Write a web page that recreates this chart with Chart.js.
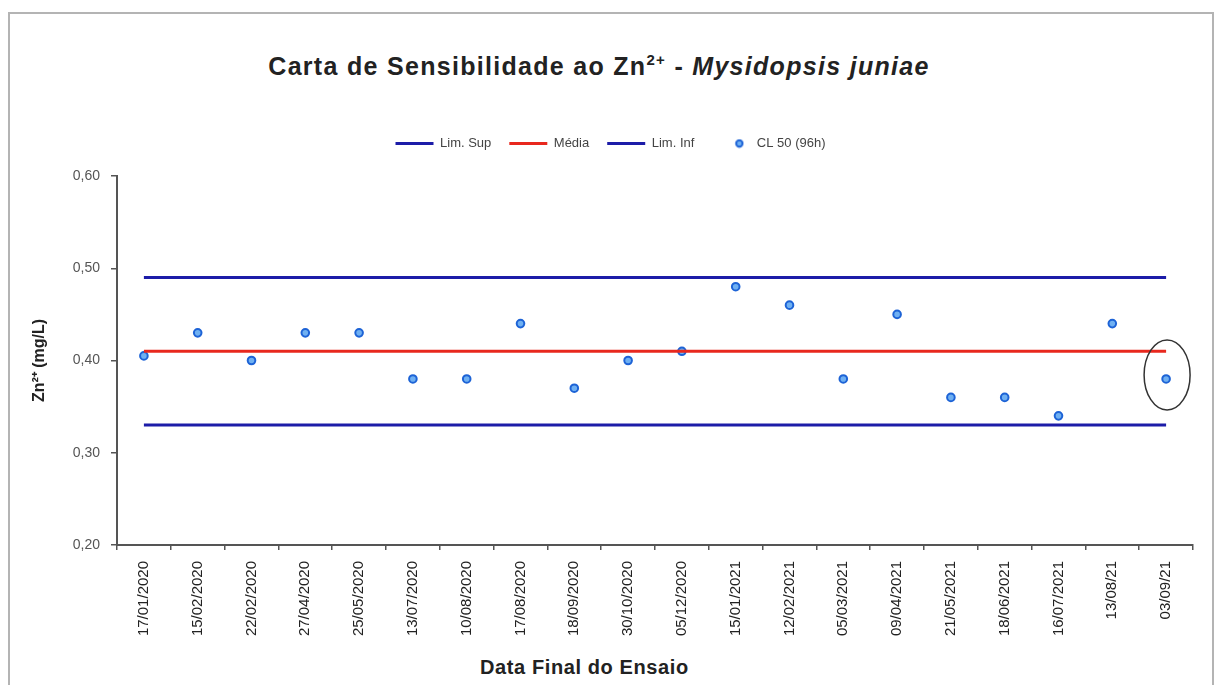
<!DOCTYPE html>
<html>
<head>
<meta charset="utf-8">
<script src="https://cdn.jsdelivr.net/npm/chart.js@4.4.1/dist/chart.umd.min.js"></script>
<style>
  body { margin: 0; background: #fff; width: 1214px; height: 685px; overflow: hidden; position: relative; }
  #frame { position: absolute; left: 8px; top: 12px; width: 1202px; height: 672px; border: 2px solid #b4b4b4; }
  #titulo { position: absolute; left: 0; width: 1198px; top: 52px; text-align: center;
    font-family: "Liberation Sans", Arial, sans-serif; font-weight: bold; font-size: 25px; color: #222;
    letter-spacing: 1.3px; }
  #titulo sup { font-size: 15px; position: relative; top: -1px; }
  #eixoX { position: absolute; left: 480px; top: 656px; font-family: "Liberation Sans", Arial, sans-serif;
    font-weight: bold; font-size: 20px; color: #222; letter-spacing: 0.6px; }
  canvas { position: absolute; left: 0; top: 0; }
</style>
</head>
<body>
<div id="frame"></div>
<div id="titulo">Carta de Sensibilidade ao Zn<sup>2+</sup> - <i>Mysidopsis juniae</i></div>
<div id="eixoX">Data Final do Ensaio</div>
<canvas id="grafico" width="1214" height="685"></canvas>
<script>
const datas = ["17/01/2020", "15/02/2020", "22/02/2020", "27/04/2020", "25/05/2020", "13/07/2020", "10/08/2020",
  "17/08/2020", "18/09/2020", "30/10/2020", "05/12/2020", "15/01/2021", "12/02/2021", "05/03/2021",
  "09/04/2021", "21/05/2021", "18/06/2021", "16/07/2021", "13/08/21", "03/09/21"];
const cl50 = [0.405, 0.43, 0.40, 0.43, 0.43, 0.38, 0.38, 0.44, 0.37, 0.40,
  0.41, 0.48, 0.46, 0.38, 0.45, 0.36, 0.36, 0.34, 0.44, 0.38];
const limSup = 0.49;
const media = 0.41;
const limInf = 0.33;
const yTicks = [0.20, 0.30, 0.40, 0.50, 0.60];

// horizontal reference lines go from the first to the last date
function linha(valor) {
  return [{ x: datas[0], y: valor }, { x: datas[datas.length - 1], y: valor }];
}

const fonte = "'Liberation Sans', Arial, sans-serif";
const azulBorda = "#1d63d6", azulFundo = "#6fb0f2";

// round marker for the legend, drawn right-aligned in the box so it sits near its text
const bolinha = document.createElement("canvas");
bolinha.width = 26; bolinha.height = 10;
(function () {
  const c = bolinha.getContext("2d");
  c.beginPath(); c.arc(21, 5, 3.2, 0, Math.PI * 2);
  c.fillStyle = azulFundo; c.fill();
  c.lineWidth = 2; c.strokeStyle = azulBorda; c.stroke();
})();

// extra space under the legend
const legendGap = {
  id: "legendGap",
  beforeInit(chart) {
    const fit = chart.legend.fit;
    chart.legend.fit = function () {
      fit.bind(chart.legend)();
      this.height += 16;
    };
  }
};

// ellipse around the last result
const elipse = {
  id: "elipse",
  afterDatasetsDraw(chart) {
    const meta = chart.getDatasetMeta(3);
    const p = meta.data[meta.data.length - 1];
    const ctx = chart.ctx;
    ctx.save();
    ctx.beginPath();
    ctx.ellipse(p.x + 1, p.y - 4, 23, 35, 0, 0, Math.PI * 2);
    ctx.strokeStyle = "#333";
    ctx.lineWidth = 1.5;
    ctx.stroke();
    ctx.restore();
  }
};

new Chart(document.getElementById("grafico"), {
  type: "line",
  data: {
    labels: datas,
    datasets: [
      { label: "Lim. Sup", data: linha(limSup), borderColor: "#1c1ca8", backgroundColor: "#1c1ca8",
        borderWidth: 3, pointRadius: 0, pointStyle: "line" },
      { label: "Média", data: linha(media), borderColor: "#e8281e", backgroundColor: "#e8281e",
        borderWidth: 3, pointRadius: 0, pointStyle: "line" },
      { label: "Lim. Inf", data: linha(limInf), borderColor: "#1c1ca8", backgroundColor: "#1c1ca8",
        borderWidth: 3, pointRadius: 0, pointStyle: "line" },
      { label: "CL 50 (96h)", data: cl50, showLine: false, pointStyle: "circle", pointRadius: 3.8,
        pointBorderWidth: 2, borderColor: azulBorda, backgroundColor: azulFundo,
        pointBackgroundColor: azulFundo, pointBorderColor: azulBorda }
    ]
  },
  options: {
    responsive: false,
    animation: false,
    layout: { padding: { left: 28, right: 21, top: 119, bottom: 0 } },
    plugins: {
      legend: {
        position: "top",
        labels: {
          usePointStyle: true, pointStyleWidth: 38, boxHeight: 8, padding: 18,
          color: "#444", font: { family: fonte, size: 13 },
          generateLabels(chart) {
            const items = Chart.defaults.plugins.legend.labels.generateLabels(chart);
            items[3].pointStyle = bolinha;
            return items;
          }
        }
      },
      tooltip: { enabled: false }
    },
    scales: {
      x: {
        offset: true,
        afterFit(s) { s.height = 140; },
        grid: { display: true, drawOnChartArea: false, offset: true, tickLength: 5, color: "#555", lineWidth: 1.5 },
        border: { color: "#555", width: 2 },
        ticks: { autoSkip: false, minRotation: 90, maxRotation: 90, padding: 11,
          color: "#222", font: { family: fonte, size: 15 } }
      },
      y: {
        min: 0.2, max: 0.6,
        afterFit(s) { s.width = 89; },
        afterBuildTicks(s) { s.ticks = yTicks.map(v => ({ value: v })); },
        grid: { display: true, drawOnChartArea: false, tickLength: 6, color: "#555", lineWidth: 1.5 },
        border: { color: "#555", width: 2 },
        ticks: { color: "#555", padding: 11, font: { family: fonte, size: 14 },
          callback: v => v.toFixed(2).replace(".", ",") },
        title: { display: true, text: "Zn²⁺ (mg/L)", color: "#222",
          font: { family: fonte, size: 16, weight: "bold" }, padding: { top: 2, bottom: 4 } }
      }
    }
  },
  plugins: [legendGap, elipse]
});
</script>
</body>
</html>
